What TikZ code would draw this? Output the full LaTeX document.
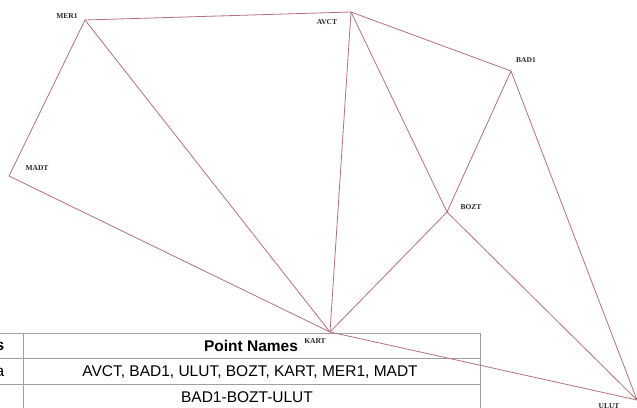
\documentclass[tikz,border=0pt]{standalone}
\usepackage{fontspec}
\setmainfont{Liberation Sans}
\newfontfamily\labfont{Liberation Serif}
\definecolor{edgec}{RGB}{178,112,122}
\definecolor{gridc}{RGB}{160,160,160}
\begin{document}
\begin{tikzpicture}[x=1pt,y=-1pt,
  edge/.style={draw=edgec,line width=0.8pt},
  lab/.style={font=\labfont\bfseries\fontsize{7.5}{8}\selectfont,text=black!85,inner sep=0pt},
  cell/.style={font=\fontsize{15.5}{18}\selectfont,inner sep=0pt},
  gridline/.style={draw=gridc,line width=0.9pt}]
\useasboundingbox (0,0) rectangle (637,407);
\clip (0,0) rectangle (637,407);
% table
\draw[gridline] (-5,333) -- (480,333);
\draw[gridline] (-5,358.5) -- (480,358.5);
\draw[gridline] (-5,384.5) -- (480,384.5);
\draw[gridline] (23,333) -- (23,412);
\draw[gridline] (480,333) -- (480,412);
\node[cell,font=\bfseries\fontsize{15.5}{18}\selectfont,anchor=east] (h1) at (4.5,346) {s};
\node[cell,font=\bfseries\fontsize{15.5}{18}\selectfont] (h2) at (251,346) {Point Names};
\node[cell,anchor=east] (r1a) at (4.5,372) {a};
\node[cell] (r1b) at (250,372) {AVCT, BAD1, ULUT, BOZT, KART, MER1, MADT};
\node[cell] (r2b) at (247,397.5) {BAD1-BOZT-ULUT};
% stations
\coordinate (mer) at (85,20);
\coordinate (avct) at (351,12);
\coordinate (bad) at (511,71);
\coordinate (madt) at (9,176);
\coordinate (bozt) at (447,212);
\coordinate (kart) at (330,332);
\coordinate (ulut) at (637,400);
\draw[edge] (mer) -- (avct);
\draw[edge] (avct) -- (bad);
\draw[edge] (mer) -- (madt);
\draw[edge] (mer) -- (kart);
\draw[edge] (madt) -- (kart);
\draw[edge] (avct) -- (kart);
\draw[edge] (avct) -- (bozt);
\draw[edge] (bad) -- (bozt);
\draw[edge] (bad) -- (ulut);
\draw[edge] (bozt) -- (kart);
\draw[edge] (bozt) -- (ulut);
\draw[edge] (kart) -- (ulut);
\node[lab] (lmer) at (67,16) {MER1};
\node[lab] (lavct) at (327,22) {AVCT};
\node[lab] (lbad) at (526,60) {BAD1};
\node[lab] (lmadt) at (37,168) {MADT};
\node[lab] (lbozt) at (471,207) {BOZT};
\node[lab] (lkart) at (315,341) {KART};
\node[lab] (lulut) at (609,406) {ULUT};
\end{tikzpicture}
\end{document}
